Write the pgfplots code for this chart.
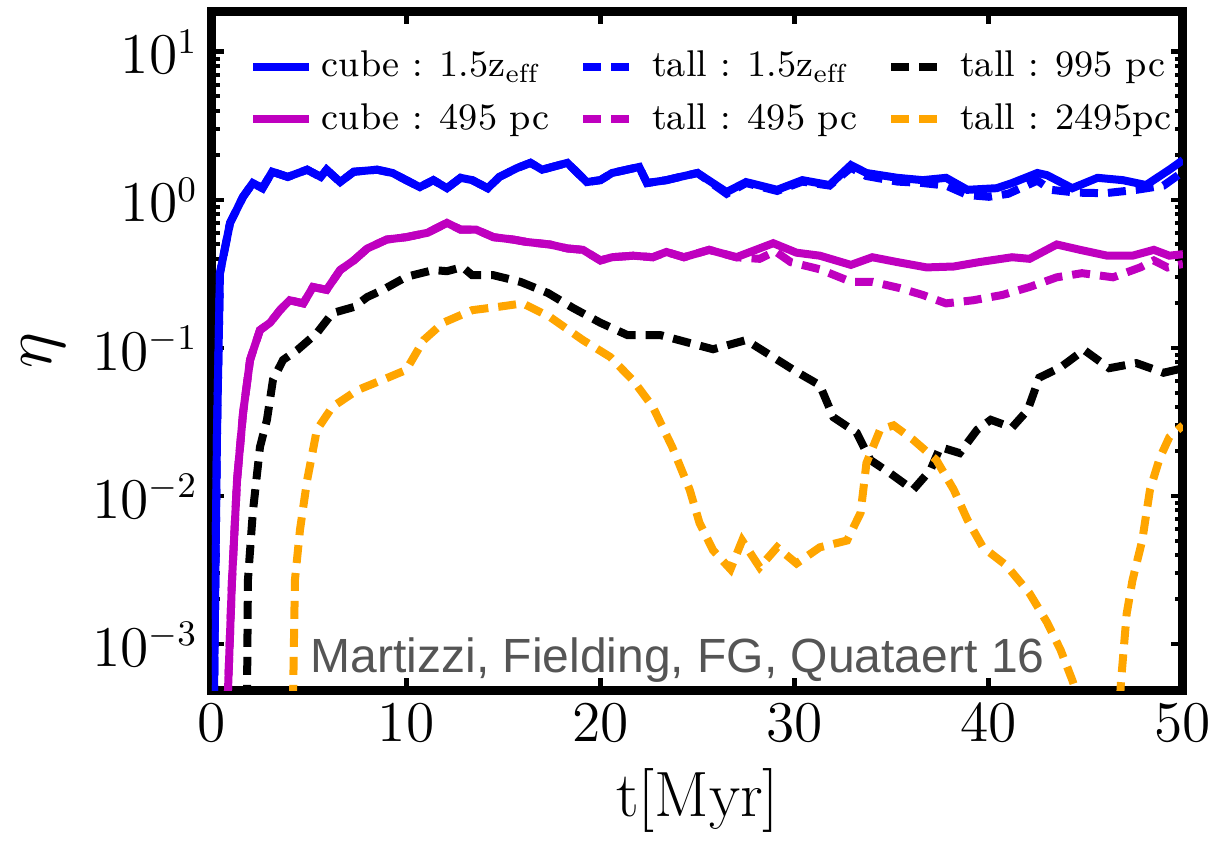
\documentclass[border=0pt]{standalone}
\usepackage{fontspec}
\newfontfamily\annfont{Liberation Sans}
\usepackage{pgfplots}
\pgfplotsset{compat=1.18}
\definecolor{mplblue}{RGB}{0,0,255}
\definecolor{mplmag}{RGB}{191,0,191}
\definecolor{mplorange}{RGB}{255,165,0}
\definecolor{anngray}{RGB}{85,85,85}
\begin{document}
\begin{tikzpicture}
\begin{axis}[
  name=ax, at={(0,0)}, anchor=south west,
  scale only axis, width=242.75pt, height=169.5pt,
  xmin=0, xmax=50, ymode=log, ymin=4.89e-4, ymax=18.6,
  xtick={0,10,20,30,40,50},
  ytick={1e-3,1e-2,1e-1,1,10},
  minor x tick num=0,
  tick align=inside,
  major tick length=3pt, minor tick length=2pt,
  every major tick/.append style={line width=1.2pt, black},
  every minor tick/.append style={line width=1pt, black},
  axis line style={line width=2.25pt},
  tick label style={font=\fontsize{13.5}{14}\selectfont},
  xlabel={t[Myr]}, ylabel={$\eta$},
  xlabel style={font=\fontsize{16}{18}\selectfont},
  ylabel style={font=\fontsize{18}{20}\selectfont},
  legend columns=3,
  legend cell align=left,
  legend style={at={(rel axis cs:0.025,0.9676)}, anchor=north west, draw=none, fill=none,
    font=\fontsize{9.3}{11}\selectfont, row sep=1.2pt,
    nodes={inner xsep=1pt},
    /tikz/every odd column/.append style={column sep=1.2pt},
    /tikz/every even column/.append style={column sep=6.5pt}},
  legend image code/.code={\draw[#1] (0pt,0pt) -- (14pt,0pt);},
  every axis plot/.append style={line width=2pt},
]
\addplot[mplblue, solid] coordinates {
(0.1,4e-4) (0.26,0.028) (0.41,0.32) (0.93,0.70) (1.6,1.05) (2.1,1.30) (2.6,1.2)
(3.1,1.55) (3.9,1.43) (4.9,1.6) (5.6,1.43) (5.9,1.6) (6.6,1.32) (7.3,1.55)
(8.5,1.6) (9.3,1.52) (10.0,1.36) (10.7,1.22) (11.4,1.36) (12.1,1.2) (12.8,1.41)
(13.4,1.36) (14.2,1.2) (14.8,1.43) (15.7,1.64) (16.4,1.78) (17.0,1.6) (18.3,1.78)
(19.3,1.32) (20.0,1.36) (20.6,1.52) (22.0,1.67) (22.4,1.30) (23.4,1.36) (24.1,1.43)
(25.0,1.52) (26.5,1.13) (27.5,1.32) (29.1,1.17) (30.4,1.36) (31.8,1.26) (32.9,1.72)
(33.7,1.52) (35.3,1.41) (36.6,1.36) (37.8,1.41) (38.9,1.17) (40.4,1.2) (41.2,1.30)
(42.5,1.52) (43.0,1.47) (44.3,1.2) (45.6,1.41) (46.9,1.36) (48.1,1.26) (49.3,1.6) (50.0,1.86)
};
\addlegendentry{cube : 1.5z$_{\rm eff}$}
\addplot[mplblue, dash pattern=on 4.5pt off 2.5pt] coordinates {
(0.1,4e-4) (0.26,0.028) (0.41,0.32) (0.93,0.70) (1.6,1.05) (2.1,1.30) (2.6,1.2)
(3.1,1.55) (3.9,1.43) (4.9,1.6) (5.6,1.43) (5.9,1.6) (6.6,1.32) (7.3,1.55)
(8.5,1.6) (9.3,1.52) (10.0,1.36) (10.7,1.22) (11.4,1.36) (12.1,1.2) (12.8,1.41)
(13.4,1.36) (14.2,1.2) (14.8,1.43) (15.7,1.64) (16.4,1.78) (17.0,1.6) (18.3,1.78)
(19.3,1.32) (20.0,1.36) (20.6,1.52) (22.0,1.67) (22.4,1.30) (23.4,1.36) (24.1,1.43)
(25.0,1.52) (26.5,1.10) (27.5,1.30) (29.1,1.15) (30.4,1.33) (31.8,1.25) (32.9,1.65)
(33.7,1.45) (35.3,1.33) (36.6,1.30) (37.8,1.25) (38.9,1.08) (40.0,1.05) (41.0,1.10)
(42.5,1.35) (43.2,1.17) (44.5,1.12) (46.0,1.11) (47.6,1.17) (49.0,1.25) (50.0,1.55)
};
\addlegendentry{tall : 1.5z$_{\rm eff}$}
\addplot[black, dash pattern=on 4.5pt off 2.5pt] coordinates {
(1.8,4e-4) (1.85,0.0027) (2.1,0.0077) (2.47,0.0214) (2.83,0.0327) (3.14,0.061)
(3.66,0.083) (4.4,0.097) (5.4,0.126) (6.2,0.172) (7.3,0.189) (8.0,0.221) (8.8,0.247)
(10.0,0.302) (11.4,0.336) (12.1,0.33) (12.9,0.352) (13.4,0.31) (14.5,0.31) (15.9,0.279)
(17.3,0.235) (18.6,0.186) (20.0,0.148) (21.4,0.122) (23.1,0.122) (24.6,0.108) (25.8,0.098)
(27.5,0.113) (28.7,0.09) (30.1,0.069) (31.3,0.056) (32.0,0.034) (33.2,0.0267) (33.9,0.0175)
(34.9,0.0143) (36.1,0.011) (37.0,0.015) (37.5,0.0214) (38.5,0.0195) (39.4,0.028) (40.1,0.0327)
(41.2,0.029) (42.0,0.038) (42.6,0.063) (43.7,0.074) (44.9,0.097) (46.2,0.073) (47.6,0.079)
(49.0,0.068) (50.0,0.073)
};
\addlegendentry{tall : 995 pc}
\addplot[mplmag, solid] coordinates {
(0.8,4e-4) (1.03,0.0027) (1.29,0.0128) (1.6,0.0364) (1.96,0.083) (2.47,0.132) (2.99,0.148)
(3.5,0.18) (4.0,0.21) (4.7,0.20) (5.2,0.258) (5.9,0.247) (6.6,0.336) (7.3,0.39) (8.0,0.47)
(9.0,0.54) (10.0,0.56) (11.1,0.60) (12.1,0.70) (12.8,0.63) (13.6,0.63) (14.5,0.56) (15.5,0.54)
(16.2,0.52) (17.4,0.50) (18.3,0.47) (19.1,0.46) (20.0,0.39) (20.6,0.41) (21.7,0.42) (22.7,0.41)
(23.4,0.445) (24.3,0.41) (25.1,0.44) (25.6,0.46) (27.0,0.41) (28.9,0.51) (30.1,0.44) (31.3,0.42)
(32.9,0.364) (34.0,0.41) (35.3,0.38) (36.8,0.35) (38.2,0.355) (39.5,0.38) (41.2,0.41) (42.1,0.40)
(43.5,0.50) (44.7,0.46) (46.1,0.42) (47.4,0.42) (48.5,0.46) (49.3,0.42) (50.0,0.43)
};
\addlegendentry{cube : 495 pc}
\addplot[mplmag, dash pattern=on 4.5pt off 2.5pt] coordinates {
(0.8,4e-4) (1.03,0.0027) (1.29,0.0128) (1.6,0.0364) (1.96,0.083) (2.47,0.132) (2.99,0.148)
(3.5,0.18) (4.0,0.21) (4.7,0.20) (5.2,0.258) (5.9,0.247) (6.6,0.336) (7.3,0.39) (8.0,0.47)
(9.0,0.54) (10.0,0.56) (11.1,0.60) (12.1,0.70) (12.8,0.63) (13.6,0.63) (14.5,0.56) (15.5,0.54)
(16.2,0.52) (17.4,0.50) (18.3,0.47) (19.1,0.46) (20.0,0.39) (20.6,0.41) (21.7,0.42) (22.7,0.41)
(23.4,0.445) (24.3,0.41) (25.1,0.44) (25.6,0.46) (27.0,0.41) (28.2,0.40) (29.0,0.45) (29.8,0.38)
(31.3,0.34) (32.9,0.28) (34.0,0.28) (35.4,0.254) (36.6,0.228) (37.8,0.20) (39.2,0.21) (40.7,0.228)
(42.1,0.258) (43.5,0.30) (44.8,0.32) (46.4,0.30) (47.8,0.35) (48.5,0.39) (49.2,0.35) (50.0,0.37)
};
\addlegendentry{tall : 495 pc}
\addplot[mplorange, dash pattern=on 4.5pt off 2.5pt] coordinates {
(4.17,4e-4) (4.27,0.0027) (4.53,0.0059) (4.9,0.0128) (5.4,0.028) (6.2,0.04) (7.5,0.052)
(8.8,0.061) (10.0,0.071) (10.9,0.113) (11.9,0.148) (13.4,0.18) (14.8,0.19) (16.0,0.20)
(17.4,0.162) (19.1,0.113) (20.5,0.087) (21.7,0.06) (22.7,0.04) (23.7,0.0214) (24.6,0.011)
(25.1,0.0066) (25.8,0.0043) (26.7,0.0032) (27.3,0.005) (28.2,0.0033) (29.1,0.0045) (30.1,0.0035)
(31.3,0.0045) (32.7,0.005) (33.4,0.0077) (33.7,0.0167) (34.4,0.028) (35.1,0.030) (36.1,0.024)
(37.3,0.0175) (38.2,0.011) (38.9,0.0069) (39.7,0.0045) (40.9,0.0034) (42.1,0.0022) (43.0,0.0014)
(43.7,0.00091) (44.3,0.00057) (45.0,3e-4) (46.7,3e-4) (46.8,0.00054) (47.1,0.0016) (47.4,0.0027)
(47.9,0.005) (48.3,0.011) (48.8,0.018) (49.3,0.025) (50.0,0.030)
};
\addlegendentry{tall : 2495pc}
\node[anchor=base west, inner sep=0pt, text=anngray, font=\annfont\fontsize{12}{14}\selectfont]
  at (rel axis cs:0.101,0.0265) {Martizzi, Fielding, FG, Quataert 16};
\end{axis}
\pgfresetboundingbox
\path[use as bounding box] (-53pt,-38.75pt) rectangle (249.75pt,172.5pt);
\end{tikzpicture}
\end{document}
